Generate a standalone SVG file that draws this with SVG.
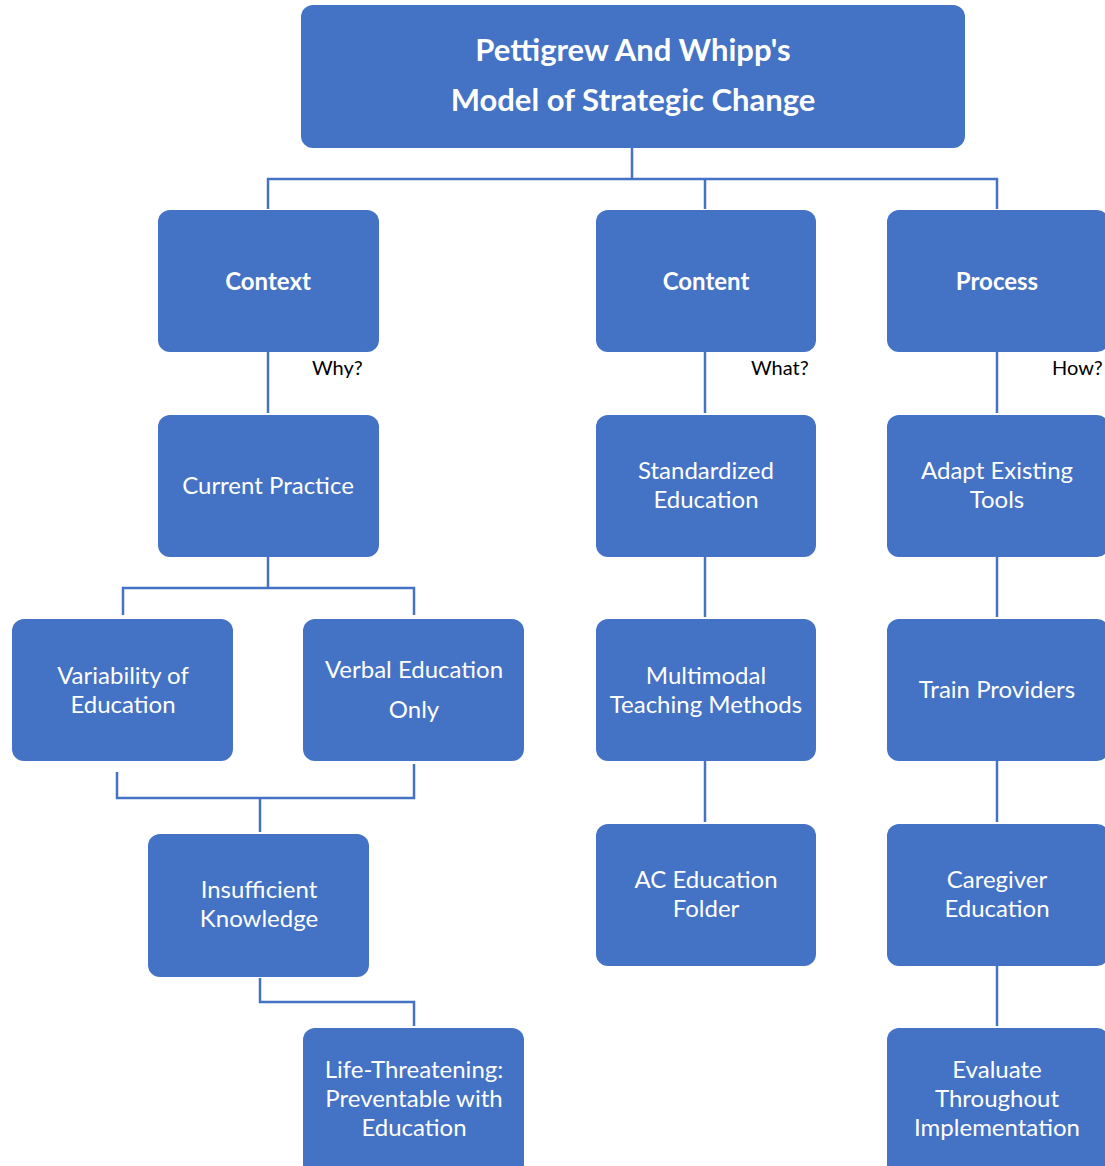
<svg xmlns="http://www.w3.org/2000/svg" width="1105" height="1166" viewBox="0 0 1105 1166">
<style>
.box{fill:#4472C4;}
.t{font-family:Lato,"Open Sans","Liberation Sans",sans-serif;font-size:24px;fill:#ffffff;text-anchor:middle;}
.b{font-weight:bold;}
.title{font-size:31px;}
.q{font-family:Lato,"Open Sans","Liberation Sans",sans-serif;font-size:20px;fill:#000000;}
.c{fill:none;stroke:#4472C4;stroke-width:2.5;}
</style>
<rect width="1105" height="1166" fill="#ffffff"/>
<g id="connectors">
<path class="c" d="M632 148 V179 M268 209 V179 H997 V209 M705 179 V209"/>
<path class="c" d="M268 352 V413"/>
<path class="c" d="M705 352 V413"/>
<path class="c" d="M997 352 V413"/>
<path class="c" d="M268 557 V588 M123 615 V588 H414 V615"/>
<path class="c" d="M705 557 V617"/>
<path class="c" d="M997 557 V617"/>
<path class="c" d="M117 772 V798 H414 V764 M260 798 V832"/>
<path class="c" d="M705 761 V822"/>
<path class="c" d="M997 761 V822"/>
<path class="c" d="M260 978 V1002 H414 V1026"/>
<path class="c" d="M997 966 V1026"/>
</g>
<g id="title">
<rect class="box" x="301" y="5" width="664" height="143" rx="12"/>
<text class="t b title" x="633" y="61">Pettigrew And Whipp's</text>
<text class="t b title" x="633" y="111">Model of Strategic Change</text>
</g>
<g id="context">
<rect class="box" x="158" y="210" width="221" height="142" rx="12"/>
<text class="t b" x="268" y="290">Context</text>
</g>
<g id="content">
<rect class="box" x="596" y="210" width="220" height="142" rx="12"/>
<text class="t b" x="706" y="290">Content</text>
</g>
<g id="process">
<rect class="box" x="887" y="210" width="222" height="142" rx="12"/>
<text class="t b" x="997" y="290">Process</text>
</g>
<g id="labels">
<text class="q" x="312" y="375">Why?</text>
<text class="q" x="751" y="375">What?</text>
<text class="q" x="1052" y="375">How?</text>
</g>
<g id="current-practice">
<rect class="box" x="158" y="415" width="221" height="142" rx="12"/>
<text class="t" x="268" y="494">Current Practice</text>
</g>
<g id="standardized-education">
<rect class="box" x="596" y="415" width="220" height="142" rx="12"/>
<text class="t" x="706" y="479">Standardized</text>
<text class="t" x="706" y="508">Education</text>
</g>
<g id="adapt-existing-tools">
<rect class="box" x="887" y="415" width="222" height="142" rx="12"/>
<text class="t" x="997" y="479">Adapt Existing</text>
<text class="t" x="997" y="508">Tools</text>
</g>
<g id="variability">
<rect class="box" x="12" y="619" width="221" height="142" rx="12"/>
<text class="t" x="123" y="684">Variability of</text>
<text class="t" x="123" y="713">Education</text>
</g>
<g id="verbal">
<rect class="box" x="303" y="619" width="221" height="142" rx="12"/>
<text class="t" x="414" y="678">Verbal Education</text>
<text class="t" x="414" y="718">Only</text>
</g>
<g id="multimodal">
<rect class="box" x="596" y="619" width="220" height="142" rx="12"/>
<text class="t" x="706" y="684">Multimodal</text>
<text class="t" x="706" y="713">Teaching Methods</text>
</g>
<g id="train-providers">
<rect class="box" x="887" y="619" width="222" height="142" rx="12"/>
<text class="t" x="997" y="698">Train Providers</text>
</g>
<g id="insufficient">
<rect class="box" x="148" y="834" width="221" height="143" rx="12"/>
<text class="t" x="259" y="898">Insufficient</text>
<text class="t" x="259" y="927">Knowledge</text>
</g>
<g id="ac-folder">
<rect class="box" x="596" y="824" width="220" height="142" rx="12"/>
<text class="t" x="706" y="888">AC Education</text>
<text class="t" x="706" y="917">Folder</text>
</g>
<g id="caregiver">
<rect class="box" x="887" y="824" width="222" height="142" rx="12"/>
<text class="t" x="997" y="888">Caregiver</text>
<text class="t" x="997" y="917">Education</text>
</g>
<g id="life-threatening">
<rect class="box" x="303" y="1028" width="221" height="150" rx="12"/>
<text class="t" x="414" y="1078">Life-Threatening:</text>
<text class="t" x="414" y="1107">Preventable with</text>
<text class="t" x="414" y="1136">Education</text>
</g>
<g id="evaluate">
<rect class="box" x="887" y="1028" width="222" height="150" rx="12"/>
<text class="t" x="997" y="1078">Evaluate</text>
<text class="t" x="997" y="1107">Throughout</text>
<text class="t" x="997" y="1136">Implementation</text>
</g>
</svg>
